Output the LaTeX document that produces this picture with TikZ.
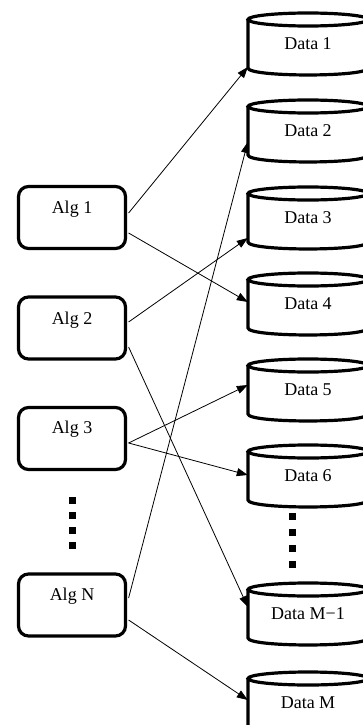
\documentclass[tikz,border=0pt]{standalone}
\usepackage{fontspec}
\setmainfont{Liberation Serif}
\usetikzlibrary{arrows.meta}
\begin{document}
\begin{tikzpicture}[x=1pt,y=-1pt,
  algbox/.style={draw, line width=3.2pt, rounded corners=10pt, minimum width=107pt, minimum height=62pt, inner sep=0pt},
  lbl/.style={inner sep=0pt, font=\fontsize{18}{21}\selectfont},
  cylline/.style={line width=3.2pt},
  dtext/.style={rectangle, inner sep=0pt, minimum width=120pt, font=\fontsize{18}{21}\selectfont},
  conn/.style={line width=0.8pt, -{Triangle[length=11pt,width=8pt]}},
  dotsq/.style={fill=black}]
\useasboundingbox (0,0) rectangle (363,725);
\clip (0,0) rectangle (363,725);
\fill[white] (0,0) rectangle (363,725);

% algorithm boxes
\node[algbox] (a1) at (72,217.5) {};
\node[algbox] (a2) at (72,328) {};
\node[algbox] (a3) at (72,438.5) {};
\node[algbox] (aN) at (72,605) {};
\node[lbl] (t1) at ([yshift=8pt]a1.center) {Alg 1};
\node[lbl] (t2) at ([yshift=8pt]a2.center) {Alg 2};
\node[lbl] (t3) at ([yshift=9pt]a3.center) {Alg 3};
\node[lbl] (tN) at ([yshift=9pt]aN.center) {Alg N};

% data cylinders
\foreach \n/\t/\l in {d1/13/Data 1, d2/100/Data 2, d3/187/Data 3, d4/273/Data 4,
                      d5/359/Data 5, d6/445/Data 6, dm1/583/Data M−1, dm/672/Data M}{
  \draw[cylline] (308,\t+6.5) ellipse [x radius=60, y radius=6.5];
  \draw[cylline] (248,\t+6.5) -- (248,\t+55)
     .. controls (248,\t+64.3) and (368,\t+64.3) .. (368,\t+55) -- (368,\t+6.5);
  \node[dtext] (\n) at (308,\t+31) {\l};
}

% vertical dots
\foreach \k in {0,1,2,3}{
  \fill[dotsq] (68.5,{500+15.3*\k-3.5}) rectangle ++(7,7);
  \fill[dotsq] (288.5,{516+16.3*\k-3.5}) rectangle ++(7,7);
}

% connectors
\draw[conn] ([xshift=1.5pt,yshift=4.5pt]a1.east) -- ([yshift=-23pt]d1.west);
\draw[conn] ([xshift=1.5pt,yshift=-15.5pt]a1.east) -- ([yshift=2pt]d4.west);
\draw[conn] ([xshift=1.5pt,yshift=6pt]a2.east) -- ([yshift=-20pt]d3.west);
\draw[conn] ([xshift=1.5pt,yshift=-19pt]a2.east) -- ([yshift=7pt]dm1.west);
\draw[conn] ([xshift=1.5pt,yshift=-4.5pt]a3.east) -- ([yshift=5pt]d5.west);
\draw[conn] ([xshift=1.5pt,yshift=-4.5pt]a3.east) -- ([yshift=1pt]d6.west);
\draw[conn] ([xshift=1.5pt,yshift=7pt]aN.east) -- ([yshift=-11pt]d2.west);
\draw[conn] ([xshift=1.5pt,yshift=-15pt]aN.east) -- ([yshift=3pt]dm.west);
\end{tikzpicture}
\end{document}
